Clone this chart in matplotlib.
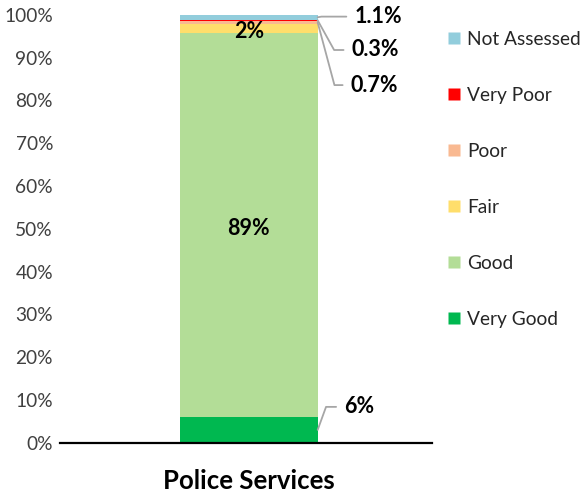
import matplotlib
matplotlib.use("Agg")
import matplotlib.pyplot as plt
from matplotlib.lines import Line2D

plt.rcParams['font.family'] = ['Lato', 'DejaVu Sans']

category = "Police Services"
levels = ["Very Good", "Good", "Fair", "Poor", "Very Poor", "Not Assessed"]
values = [6, 89, 2, 0.7, 0.3, 1.1]
labels = ["6%", "89%", "2%", "0.7%", "0.3%", "1.1%"]
colors = ["#00B850", "#B3DD97", "#FFDE6B", "#F9B991", "#FF0000", "#92CDDC"]
yticks = [0, 10, 20, 30, 40, 50, 60, 70, 80, 90, 100]
ytick_labels = [f"{t}%" for t in yticks]

total = sum(values)
shares = [v / total * 100 for v in values]

fig = plt.figure(figsize=(5.82, 4.97), dpi=100)
ax = fig.add_axes([0.103, 0.109, 0.639, 0.861])

bar_x = 0.016
bar_w = 0.74
bottom = 0
mids = []
for s, c in zip(shares, colors):
    ax.bar(bar_x, s, width=bar_w, bottom=bottom, color=c, edgecolor='none')
    mids.append(bottom + s / 2)
    bottom += s

ax.set_xlim(-1, 1)
ax.set_ylim(0, 100)
ax.set_yticks(yticks)
ax.set_yticklabels(ytick_labels, fontsize=13.8, color='#404040')
ax.set_xticks([bar_x])
ax.set_xticklabels([category], fontsize=18.5, fontweight='bold')
ax.tick_params(axis='both', length=0)
ax.tick_params(axis='x', pad=19)
ax.tick_params(axis='y', pad=5)
for side in ['left', 'right', 'top']:
    ax.spines[side].set_visible(False)
ax.spines['bottom'].set_linewidth(1.6)
ax.spines['bottom'].set_color('black')

lab_font = dict(fontsize=15.5, fontweight='bold', color='black')

# labels inside the two large segments
ax.text(bar_x, mids[1] - 0.8, labels[1], ha='center', va='center', **lab_font)
ax.text(bar_x, mids[2] - 0.7, labels[2], ha='center', va='center', **lab_font)

# leader-line labels outside the bar
edge = bar_x + bar_w / 2
leaders = [
    (0, (0.53, 8.4), 70),
    (5, (0.585, 99.6), 10),
    (4, (0.57, 91.8), -61),
    (3, (0.565, 83.6), -75),
]
for idx, (tx, ty), ang in leaders:
    ax.annotate(labels[idx], xy=(edge, mids[idx]), xytext=(tx, ty),
                ha='left', va='center', annotation_clip=False, **lab_font,
                arrowprops=dict(arrowstyle='-', color='#A6A6A6', lw=1.3,
                                shrinkA=4, shrinkB=0,
                                relpos=(0, 0.5),
                                connectionstyle=f"angle,angleA=0,angleB={ang},rad=0"))

handles = [Line2D([0], [0], marker='s', linestyle='none', markersize=8,
                  markerfacecolor=c, markeredgecolor='none')
           for c in colors[::-1]]
fig.legend(handles, levels[::-1], loc='upper left',
           bbox_to_anchor=(0.735, 0.972), frameon=False, fontsize=13.8,
           labelspacing=2.03, handletextpad=0.25, handlelength=0.9,
           labelcolor='#262626')

fig.savefig("out.png", dpi=100)
